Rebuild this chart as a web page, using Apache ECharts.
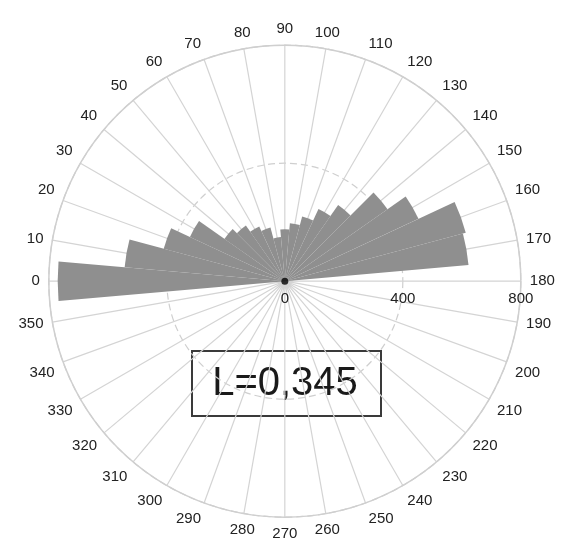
<!DOCTYPE html>
<html>
<head>
<meta charset="utf-8">
<script src="https://cdn.jsdelivr.net/npm/echarts@6/dist/echarts.min.js"></script>
<style>
html,body{margin:0;padding:0;background:#ffffff;}
#chart{width:564px;height:546px;}
</style>
</head>
<body>
<div id="chart"></div>
<script>
// Bin centres (degrees, 0 = left, clockwise, 90 = top)
const binLabels = ['0','10','20','30','40','50','60','70','80','90','100','110','120','130','140','150','160','170',
                   '180','190','200','210','220','230','240','250','260','270','280','290','300','310','320','330','340','350'];
// Bar lengths (radial scale 0-800)
const binValues = [770,545,425,355,250,230,205,188,150,176,197,227,270,315,425,500,635,625,
                   0,0,0,0,0,0,0,0,0,0,0,0,0,0,0,0,0,0];
// Radial tick labels
const radiusTicks = [0, 400, 800];
// Centre marker
const centrePoint = [[0, 360]];
const statText = 'L=0,345';

const FONT = "'Liberation Sans', Arial, sans-serif";
const center = ['50.5%', '51.5%'];
const radius = 236;

const chart = echarts.init(document.getElementById('chart'), null, {renderer: 'canvas'});
chart.setOption({
  animation: false,
  backgroundColor: '#ffffff',
  polar: [
    {center: center, radius: radius},
    {center: center, radius: radius}
  ],
  angleAxis: [
    {
      polarIndex: 0,
      type: 'value',
      min: 180, max: 540, interval: 10,
      startAngle: 0, clockwise: true,
      axisLine: {show: true, lineStyle: {color: '#cfcfcf', width: 1.5}},
      axisTick: {show: false},
      axisLabel: {
        margin: 9, color: '#222222', fontSize: 15, fontFamily: FONT,
        formatter: function (v) { return String(v % 360); }
      },
      splitLine: {show: true, lineStyle: {color: '#d4d4d4', width: 1.2}}
    },
    {
      polarIndex: 1,
      type: 'category',
      data: binLabels,
      startAngle: 185, clockwise: true,
      axisLine: {show: false}, axisTick: {show: false},
      axisLabel: {show: false}, splitLine: {show: false}
    }
  ],
  radiusAxis: [
    {
      polarIndex: 0,
      type: 'value',
      min: radiusTicks[0], max: radiusTicks[radiusTicks.length - 1],
      interval: radiusTicks[1] - radiusTicks[0],
      axisLine: {show: false}, axisTick: {show: false},
      axisLabel: {margin: -10, verticalAlign: 'top', color: '#222222', fontSize: 15, fontFamily: FONT},
      splitLine: {show: true, lineStyle: {color: '#cfcfcf', width: 1.2, type: [7, 4]}}
    },
    {
      polarIndex: 1,
      type: 'value',
      min: radiusTicks[0], max: radiusTicks[radiusTicks.length - 1],
      axisLine: {show: false}, axisTick: {show: false},
      axisLabel: {show: false}, splitLine: {show: false}
    }
  ],
  series: [
    {
      type: 'bar',
      coordinateSystem: 'polar',
      polarIndex: 1,
      data: binValues,
      barCategoryGap: '0%',
      itemStyle: {color: '#8f8f8f'},
      silent: true,
      z: 3
    },
    {
      type: 'scatter',
      coordinateSystem: 'polar',
      polarIndex: 0,
      data: centrePoint,
      symbolSize: 7,
      itemStyle: {color: '#000000'},
      silent: true,
      z: 5
    }
  ],
  graphic: [
    {
      type: 'group',
      left: 191, top: 350,
      z: 100,
      children: [
        {type: 'rect', shape: {x: 0, y: 0, width: 189, height: 65},
         style: {fill: '#ffffff', stroke: '#3a3a3a', lineWidth: 2}},
        {type: 'text', x: 93, y: 33,
         style: {text: statText, font: '40px ' + FONT, fill: '#1a1a1a',
                 textAlign: 'center', textVerticalAlign: 'middle'}}
      ]
    }
  ]
});
</script>
</body>
</html>
